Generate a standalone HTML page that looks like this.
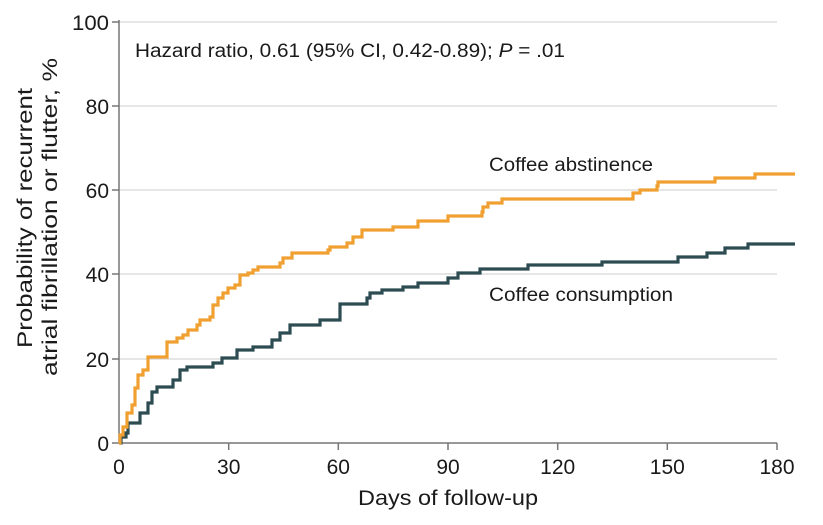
<!DOCTYPE html>
<html><head><meta charset="utf-8"><style>
body{margin:0;background:#fff;}
svg text{font-family:"Liberation Sans",sans-serif;fill:#1a1a1a;}
</style></head><body>
<svg width="823" height="520" viewBox="0 0 823 520" xmlns="http://www.w3.org/2000/svg">
<g stroke="#d8d8d8" stroke-width="1.2">
<line x1="119" y1="22" x2="777" y2="22"/><line x1="119" y1="106" x2="777" y2="106"/>
<line x1="119" y1="190" x2="777" y2="190"/><line x1="119" y1="274" x2="777" y2="274"/>
<line x1="119" y1="359" x2="777" y2="359"/>
</g>
<g stroke="#777" stroke-width="1.5" fill="none">
<line x1="119" y1="20" x2="119" y2="443"/><line x1="119" y1="443" x2="777" y2="443"/>
<line x1="112" y1="22" x2="119" y2="22"/><line x1="112" y1="106" x2="119" y2="106"/><line x1="112" y1="190" x2="119" y2="190"/><line x1="112" y1="274" x2="119" y2="274"/><line x1="112" y1="359" x2="119" y2="359"/><line x1="112" y1="443" x2="119" y2="443"/>
<line x1="228.7" y1="443" x2="228.7" y2="450"/><line x1="338.3" y1="443" x2="338.3" y2="450"/><line x1="448" y1="443" x2="448" y2="450"/><line x1="557.7" y1="443" x2="557.7" y2="450"/><line x1="667.3" y1="443" x2="667.3" y2="450"/><line x1="777" y1="443" x2="777" y2="450"/>
</g>
<g font-size="21" text-anchor="end">
<text x="109" y="30" textLength="37" lengthAdjust="spacingAndGlyphs">100</text><text x="109" y="114">80</text><text x="109" y="198">60</text><text x="109" y="282">40</text><text x="109" y="367">20</text><text x="109" y="451">0</text>
</g>
<g font-size="21" text-anchor="middle">
<text x="119" y="474">0</text><text x="228.7" y="474">30</text><text x="338.3" y="474">60</text><text x="448" y="474">90</text><text x="557.7" y="474">120</text><text x="667.3" y="474">150</text><text x="777" y="474">180</text>
</g>
<text x="358" y="505" font-size="21" textLength="180" lengthAdjust="spacingAndGlyphs">Days of follow-up</text>
<text transform="translate(32,348) rotate(-90)" font-size="21" textLength="260" lengthAdjust="spacingAndGlyphs">Probability of recurrent</text>
<text transform="translate(57,376) rotate(-90)" font-size="21" textLength="318" lengthAdjust="spacingAndGlyphs">atrial fibrillation or flutter, %</text>
<text x="135" y="57" font-size="19" textLength="430" lengthAdjust="spacingAndGlyphs">Hazard ratio, 0.61 (95% CI, 0.42-0.89); <tspan font-style="italic">P</tspan> = .01</text>
<text x="489" y="171" font-size="19" textLength="164" lengthAdjust="spacingAndGlyphs">Coffee abstinence</text>
<text x="489" y="301" font-size="19" textLength="184" lengthAdjust="spacingAndGlyphs">Coffee consumption</text>
<path fill="none" stroke="#2d4c52" stroke-width="3.2" d="M119,443 H121 V437 H126 V433 H128 V423 H140 V413 H148 V403 H152 V392 H157 V387 H167 V387 H173 V380 H180 V370 H187 V367 H213 V363 H222 V358 H237 V350 H253 V347 H272 V340 H280 V333 H290 V325 H320 V320 H340 V304 H367 V298 H370 V293 H382 V290 H403 V287 H418 V283 H448 V278 H458 V273 H480 V269 H528 V265 H602 V262 H678 V257 H707 V253 H725 V248 H748 V244 H795"/>
<path fill="none" stroke="#f0a030" stroke-width="3.2" d="M119,443 H120 V435 H123 V427 H127 V413 H132 V405 H135 V388 H138 V375 H143 V370 H148 V357 H167 V342 H177 V338 H183 V335 H188 V330 H197 V325 H200 V320 H210 V317 H213 V305 H218 V298 H223 V293 H228 V288 H235 V285 H240 V275 H248 V273 H253 V270 H258 V267 H280 V263 H283 V258 H292 V253 H328 V250 H330 V247 H347 V243 H353 V237 H362 V230 H393 V227 H418 V221 H448 V216 H482 V212 H483 V207 H488 V203 H502 V199 H633 V193 H640 V190 H657 V186 H658 V182 H715 V178 H755 V174 H795"/>
</svg>
</body></html>
